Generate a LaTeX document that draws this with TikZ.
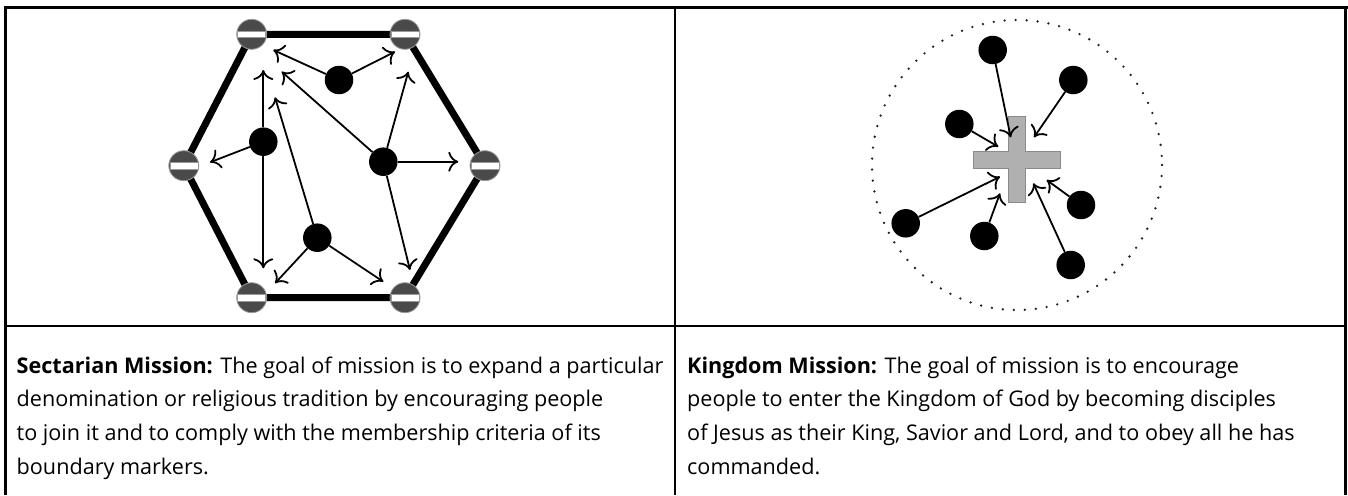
\documentclass[tikz,border=0pt]{standalone}
\usepackage{fontspec}
\setmainfont{Open Sans}
\usetikzlibrary{arrows.meta}
\definecolor{mk}{HTML}{4A4A4A}
\definecolor{mkline}{HTML}{9A9A9A}
\definecolor{crossfill}{HTML}{B0B0B0}
\definecolor{crossline}{HTML}{8A8A8A}
\definecolor{dotc}{HTML}{222222}
\begin{document}
\begin{tikzpicture}[x=1pt,y=-1pt,
  frame/.style={line width=3pt,black},
  grid/.style={line width=2pt,black},
  edge/.style={line width=7pt,black},
  marker/.style={circle,fill=mk,draw=mkline,line width=0.8pt,minimum size=30pt,inner sep=0pt,
    path picture={\draw[fill=white,draw=mkline,line width=0.6pt]
      ([xshift=-14pt,yshift=-3.3pt]path picture bounding box.center) rectangle
      ([xshift=14pt,yshift=3.3pt]path picture bounding box.center);}},
  person/.style={circle,fill=black,minimum size=28.5pt,inner sep=0pt},
  arr/.style={line width=1.8pt,-{Computer Modern Rightarrow[length=10pt,width=20pt,line width=1.8pt]}},
  desc/.style={anchor=base west,inner sep=0pt},
]
\useasboundingbox (0,0) rectangle (1348,495);
% table frame
\draw[frame] (4,7.5) -- (1347.5,7.5);
\draw[frame] (5.5,6) -- (5.5,495);
\draw[frame] (1345.8,6) -- (1345.8,495);
\draw[grid] (675,7.5) -- (675,495);
\draw[grid] (5.5,325.7) -- (1345.8,325.7);

% ---------- left diagram ----------
\coordinate (h1) at (251.7,34.3);
\coordinate (h2) at (405,34.3);
\coordinate (h3) at (485,165.7);
\coordinate (h4) at (405,297.7);
\coordinate (h5) at (251.7,297.7);
\coordinate (h6) at (183.8,165.7);
\draw[edge,line join=round] (h1) -- (h2) -- (h3) -- (h4) -- (h5) -- (h6) -- cycle;
\node[marker] (m1) at (h1) {};
\node[marker] (m2) at (h2) {};
\node[marker] (m3) at (h3) {};
\node[marker] (m4) at (h4) {};
\node[marker] (m5) at (h5) {};
\node[marker] (m6) at (h6) {};

\node[person] (A) at (339,80) {};
\node[person] (B) at (263.3,141.7) {};
\node[person] (C) at (383.3,161.7) {};
\node[person] (D) at (317.3,237.7) {};

\coordinate (a1) at (273.3,50);
\coordinate (a2) at (395,51.7);
\coordinate (b1) at (210,162.3);
\coordinate (b2) at (263.3,70);
\coordinate (b3) at (263.3,268.3);
\coordinate (c1) at (281.7,71.7);
\coordinate (c2) at (408.3,71.7);
\coordinate (c3) at (458.3,161.7);
\coordinate (c4) at (410,270);
\coordinate (d1) at (275,97.3);
\coordinate (d2) at (275,283.3);
\coordinate (d3) at (383.3,281.7);

\draw[arr] (A) -- (a1);
\draw[arr] (A) -- (a2);
\draw[arr] (B) -- (b1);
\draw[arr] (B) -- (b2);
\draw[arr] (B) -- (b3);
\draw[arr] (C) -- (c1);
\draw[arr] (C) -- (c2);
\draw[arr] (C) -- (c3);
\draw[arr] (C) -- (c4);
\draw[arr] (D) -- (d1);
\draw[arr] (D) -- (d2);
\draw[arr] (D) -- (d3);

% ---------- right diagram ----------
\draw[line width=2.6pt,dash pattern=on 0pt off 11pt,line cap=round,dotc] (1017,165) circle (145);
\draw[fill=crossfill,draw=crossline,line width=0.8pt]
  (1008.3,116.7) -- (1025.7,116.7) -- (1025.7,151.7) -- (1060,151.7) -- (1060,168.3)
  -- (1025.7,168.3) -- (1025.7,202.3) -- (1008.3,202.3) -- (1008.3,168.3)
  -- (973.3,168.3) -- (973.3,151.7) -- (1008.3,151.7) -- cycle;

\node[person] (N1) at (992.7,50) {};
\node[person] (N2) at (1073.3,80) {};
\node[person] (N3) at (959.3,124) {};
\node[person] (N4) at (905.7,223.3) {};
\node[person] (N5) at (984.3,236) {};
\node[person] (N6) at (1081,205) {};
\node[person] (N7) at (1070.7,265) {};

\coordinate (n1) at (1010.7,137.3);
\coordinate (n2) at (1034,137.3);
\coordinate (n3) at (998.3,146.7);
\coordinate (n4) at (1000,176.7);
\coordinate (n5) at (1000,193.3);
\coordinate (n6) at (1046.7,180);
\coordinate (n7) at (1033.3,183.3);

\draw[arr] (N1) -- (n1);
\draw[arr] (N2) -- (n2);
\draw[arr] (N3) -- (n3);
\draw[arr] (N4) -- (n4);
\draw[arr] (N5) -- (n5);
\draw[arr] (N6) -- (n6);
\draw[arr] (N7) -- (n7);

% ---------- texts ----------
\node[desc] (lt) at (16.5,373) {\parbox[t]{800pt}{\fontsize{21.6}{33.7}\selectfont
\textbf{Sectarian Mission:} The goal of mission is to expand a particular\\
denomination or religious tradition by encouraging people\\
to join it and to comply with the membership criteria of its\\
boundary markers.}};
\node[desc] (rt) at (687,373) {\parbox[t]{800pt}{\fontsize{21.6}{33.7}\selectfont
\textbf{Kingdom Mission:} The goal of mission is to encourage\\
people to enter the Kingdom of God by becoming disciples\\
of Jesus as their King, Savior and Lord, and to obey all he has\\
commanded.}};
\end{tikzpicture}
\end{document}
